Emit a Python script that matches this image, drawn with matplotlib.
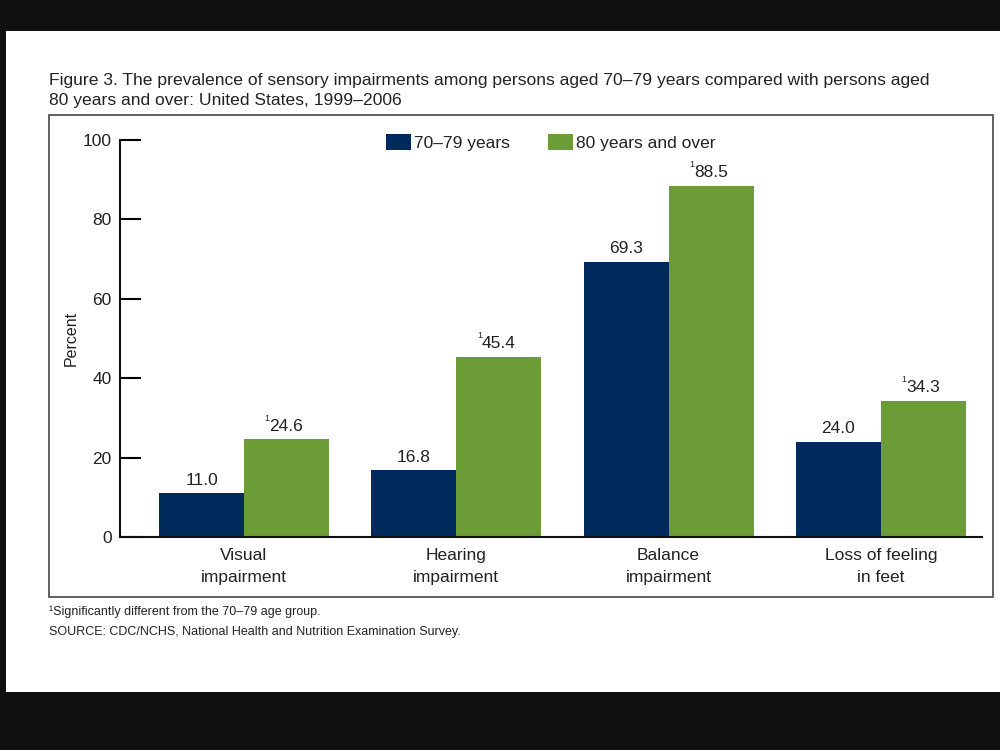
import matplotlib.pyplot as plt
from matplotlib.patches import Rectangle
import numpy as np

plt.rcParams['font.family'] = ['Liberation Sans', 'DejaVu Sans']

# data
categories = ["Visual\nimpairment", "Hearing\nimpairment", "Balance\nimpairment", "Loss of feeling\nin feet"]
age_70_79 = [11.0, 16.8, 69.3, 24.0]
age_80_over = [24.6, 45.4, 88.5, 34.3]
series_names = ["70\u201379 years", "80 years and over"]

navy = "#002a5c"
green = "#6b9c35"
txt = "#222222"

fig = plt.figure(figsize=(10, 7.5), dpi=100, facecolor="#101010")

# white page area on the black screen
fig.patches.append(Rectangle((0.006, 1 - 692 / 750), 0.994, (692 - 31) / 750,
                             transform=fig.transFigure, facecolor="white",
                             edgecolor="none", zorder=-2))
# chart frame
fig.patches.append(Rectangle((49 / 1000, 1 - 597 / 750), (993 - 49) / 1000, (597 - 115) / 750,
                             transform=fig.transFigure, facecolor="none",
                             edgecolor="#555555", linewidth=1.3, zorder=-1))

ax = fig.add_axes([0.12, 1 - 537 / 750, 0.862, (537 - 140) / 750])
ax.set_zorder(5)
ax.set_facecolor("none")

x = np.arange(len(categories))
w = 0.4
ax.bar(x - w / 2, age_70_79, w, color=navy, label=series_names[0], zorder=2)
ax.bar(x + w / 2, age_80_over, w, color=green, label=series_names[1], zorder=2)

ax.set_xlim(-0.584, 3.476)
ax.set_ylim(0, 100)
ax.set_yticks([0, 20, 40, 60, 80, 100])
ax.tick_params(axis="y", direction="in", length=15, width=1.5, labelsize=12.5,
               labelcolor=txt, pad=6)
ax.set_xticks(x)
ax.set_xticklabels(categories, fontsize=12.5, color=txt, linespacing=1.55)
ax.tick_params(axis="x", length=0, pad=8)

for s in ["top", "right"]:
    ax.spines[s].set_visible(False)
for s in ["left", "bottom"]:
    ax.spines[s].set_linewidth(1.5)
    ax.spines[s].set_color("#111111")

ax.set_ylabel("Percent", fontsize=11.5, color=txt, labelpad=3)

for xi, v in zip(x - w / 2, age_70_79):
    ax.annotate(f"{v:.1f}", (xi, v), xytext=(0, 4), textcoords="offset points",
                ha="center", va="bottom", fontsize=12.5, color=txt)
for xi, v in zip(x + w / 2, age_80_over):
    ax.annotate(f"{v:.1f}", (xi, v), xytext=(0, 4), textcoords="offset points",
                ha="center", va="bottom", fontsize=12.5, color=txt)
    ax.annotate("1", (xi, v), xytext=(-12, 12), textcoords="offset points",
                ha="right", va="bottom", fontsize=6.5, color=txt)

ax.legend(loc="upper center", bbox_to_anchor=(0.5, 1.055), ncol=2, frameon=False,
          fontsize=12.5, handlelength=1.4, handleheight=1.1, handletextpad=0.2,
          columnspacing=2.2, labelcolor=txt)

fig.text(0.049, 1 - 73 / 750,
         "Figure 3. The prevalence of sensory impairments among persons aged 70\u201379 years compared with persons aged\n"
         "80 years and over: United States, 1999\u20132006",
         ha="left", va="top", fontsize=12.6, color=txt, linespacing=1.45)

fig.text(0.049, 1 - 612 / 750, "\u00b9Significantly different from the 70\u201379 age group.",
         ha="left", va="center", fontsize=9, color=txt)
fig.text(0.049, 1 - 632 / 750, "SOURCE: CDC/NCHS, National Health and Nutrition Examination Survey.",
         ha="left", va="center", fontsize=9, color=txt)

fig.savefig("out.png", dpi=100, facecolor=fig.get_facecolor())
